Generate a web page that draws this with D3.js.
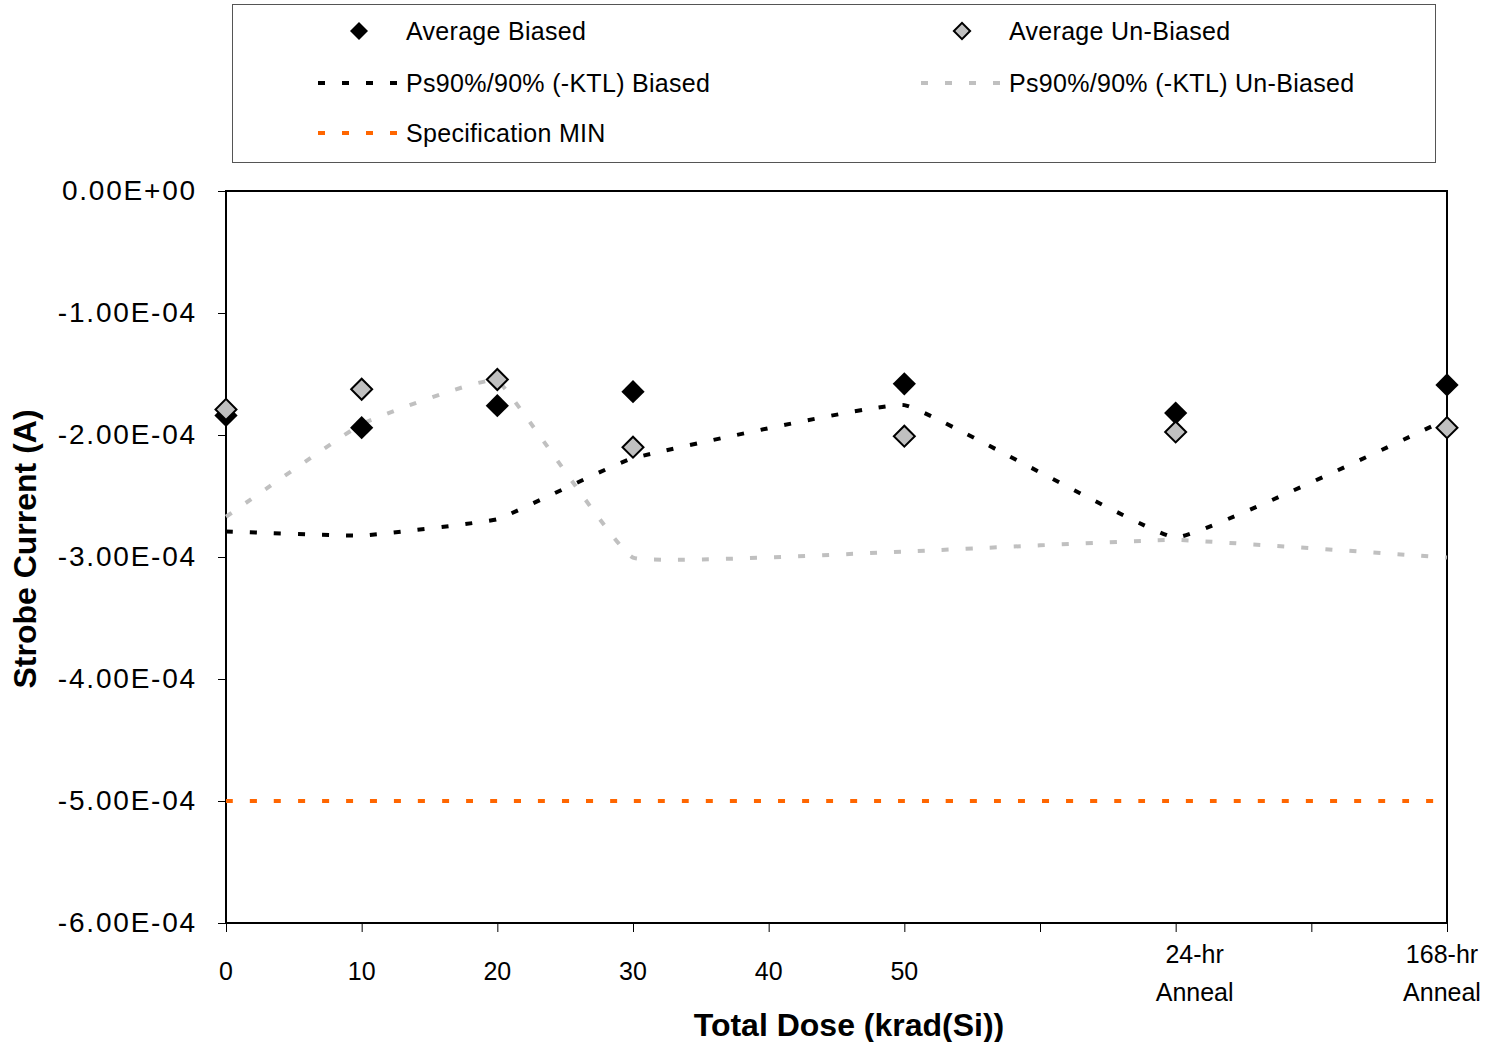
<!DOCTYPE html>
<html>
<head>
<meta charset="utf-8">
<script src="https://cdn.jsdelivr.net/npm/d3@7"></script>
<style>
  body { margin: 0; background: #fff; }
  text { font-family: Arial, "Liberation Sans", sans-serif; fill: #000; }
</style>
</head>
<body>
<svg id="chart" width="1496" height="1042"></svg>
<script>
const width = 1496;
const height = 1042;
const marginLeft = 226;
const marginRight = 49;
const marginTop = 191;
const marginBottom = 119;

// dose steps (24-hr and 168-hr anneal placed at 70 and 90)
const doses = [0, 10, 20, 30, 50, 70, 90];
const avgBiased = [-1.84e-4, -1.94e-4, -1.76e-4, -1.645e-4, -1.58e-4, -1.82e-4, -1.59e-4];
const avgUnBiased = [-1.79e-4, -1.625e-4, -1.545e-4, -2.10e-4, -2.01e-4, -1.975e-4, -1.94e-4];
const ktlBiased = [-2.79e-4, -2.825e-4, -2.69e-4, -2.19e-4, -1.755e-4, -2.84e-4, -1.87e-4];
const ktlUnBiased = [-2.67e-4, -1.91e-4, -1.555e-4, -3.005e-4, -2.955e-4, -2.86e-4, -3.005e-4];
const specMin = [-5e-4, -5e-4, -5e-4, -5e-4, -5e-4, -5e-4, -5e-4];

const xTicks = [0, 10, 20, 30, 40, 50, 60, 70, 80, 90];
const xTickLabels = ["0", "10", "20", "30", "40", "50", "", "24-hr\nAnneal", "", "168-hr\nAnneal"];
const yTicks = [0, -1e-4, -2e-4, -3e-4, -4e-4, -5e-4, -6e-4];

const svg = d3.select("#chart");

const x = d3.scaleLinear().domain([0, 90]).range([marginLeft, width - marginRight]);
const y = d3.scaleLinear().domain([-6e-4, 0]).range([height - marginBottom, marginTop]);

function sciFormat(d) {
  const parts = d.toExponential(2).split("e");
  const sign = parts[1][0];
  const digits = parts[1].slice(1).padStart(2, "0");
  return parts[0] + "E" + sign + digits;
}

const lineDash = "7,17";

const lineSeries = [
  { name: "Ps90%/90% (-KTL) Biased", values: ktlBiased, color: "#000000" },
  { name: "Ps90%/90% (-KTL) Un-Biased", values: ktlUnBiased, color: "#C0C0C0" },
  { name: "Specification MIN", values: specMin, color: "#FF6600" },
];

const markerSeries = [
  { name: "Average Biased", values: avgBiased, fill: "#000000", stroke: "none", size: 270 },
  { name: "Average Un-Biased", values: avgUnBiased, fill: "#C0C0C0", stroke: "#000000", size: 220 },
];

// y axis
svg.append("g")
  .attr("transform", `translate(${marginLeft},0)`)
  .call(d3.axisLeft(y).tickValues(yTicks).tickFormat(sciFormat).tickSize(8).tickPadding(21))
  .call(g => g.select(".domain").remove())
  .call(g => g.selectAll(".tick line").attr("stroke", "#000"))
  .call(g => g.selectAll(".tick text")
    .style("font-size", "28px")
    .style("letter-spacing", "1.8px")
    .attr("font-family", null));

// x axis
svg.append("g")
  .attr("transform", `translate(0,${height - marginBottom})`)
  .call(d3.axisBottom(x).tickValues(xTicks).tickFormat("").tickSize(9))
  .call(g => g.select(".domain").remove())
  .call(g => g.selectAll(".tick line").attr("stroke", "#000"));

svg.append("g")
  .selectAll("text")
  .data(xTicks)
  .join("text")
  .attr("text-anchor", "middle")
  .style("font-size", "25px")
  .each(function (d, i) {
    const lines = xTickLabels[i].split("\n");
    const nudge = i === 7 ? 19 : i === 9 ? -5 : 0;
    const base = lines.length > 1 ? 963 : 980;
    lines.forEach((t, k) => {
      d3.select(this)
        .append("tspan")
        .attr("x", x(d) + nudge)
        .attr("y", base + k * 38)
        .text(t);
    });
  });

// plot frame
svg.append("rect")
  .attr("x", marginLeft)
  .attr("y", marginTop)
  .attr("width", width - marginLeft - marginRight)
  .attr("height", height - marginTop - marginBottom)
  .attr("fill", "none")
  .attr("stroke", "#000")
  .attr("stroke-width", 2);

// lines (Excel-style light smoothing)
const line = d3.line()
  .x(d => x(d[0]))
  .y(d => y(d[1]))
  .curve(d3.curveCardinal.tension(0.75));

svg.append("g")
  .selectAll("path")
  .data(lineSeries)
  .join("path")
  .attr("d", s => line(doses.map((d, i) => [d, s.values[i]])))
  .attr("fill", "none")
  .attr("stroke", s => s.color)
  .attr("stroke-width", 4)
  .attr("stroke-dasharray", lineDash);

// markers
markerSeries.forEach(s => {
  svg.append("g")
    .selectAll("path")
    .data(doses)
    .join("path")
    .attr("d", d3.symbol(d3.symbolSquare, s.size))
    .attr("transform", (d, i) => `translate(${x(d)},${y(s.values[i])}) rotate(45)`)
    .attr("fill", s.fill)
    .attr("stroke", s.stroke)
    .attr("stroke-width", 2);
});

// axis titles
svg.append("text")
  .attr("transform", "translate(36,549) rotate(-90)")
  .attr("text-anchor", "middle")
  .style("font-size", "32px")
  .style("font-weight", "bold")
  .text("Strobe Current (A)");

svg.append("text")
  .attr("x", 849)
  .attr("y", 1036)
  .attr("text-anchor", "middle")
  .style("font-size", "32px")
  .style("font-weight", "bold")
  .text("Total Dose (krad(Si))");

// legend
const legend = svg.append("g");

legend.append("rect")
  .attr("x", 232.5)
  .attr("y", 4.5)
  .attr("width", 1203)
  .attr("height", 158)
  .attr("fill", "#fff")
  .attr("stroke", "#555")
  .attr("stroke-width", 1);

const legendItems = [
  { label: markerSeries[0].name, kind: "marker", s: markerSeries[0], col: 0, row: 0 },
  { label: markerSeries[1].name, kind: "marker", s: markerSeries[1], col: 1, row: 0 },
  { label: lineSeries[0].name, kind: "line", s: lineSeries[0], col: 0, row: 1 },
  { label: lineSeries[1].name, kind: "line", s: lineSeries[1], col: 1, row: 1 },
  { label: lineSeries[2].name, kind: "line", s: lineSeries[2], col: 0, row: 2 },
];
const colX = [318, 921];
const rowY = [31, 83, 133];

legendItems.forEach(item => {
  const lx = colX[item.col];
  const ly = rowY[item.row];
  const g = legend.append("g");
  if (item.kind === "marker") {
    g.append("path")
      .attr("d", d3.symbol(d3.symbolSquare, item.s.size * 0.6))
      .attr("transform", `translate(${lx + 41},${ly}) rotate(45)`)
      .attr("fill", item.s.fill)
      .attr("stroke", item.s.stroke)
      .attr("stroke-width", 2);
  } else {
    g.append("line")
      .attr("x1", lx)
      .attr("x2", lx + 81)
      .attr("y1", ly)
      .attr("y2", ly)
      .attr("stroke", item.s.color)
      .attr("stroke-width", 4)
      .attr("stroke-dasharray", lineDash);
  }
  g.append("text")
    .attr("x", lx + 88)
    .attr("y", ly + 9)
    .style("font-size", "25px")
    .style("letter-spacing", "0.3px")
    .text(item.label);
});
</script>
</body>
</html>
